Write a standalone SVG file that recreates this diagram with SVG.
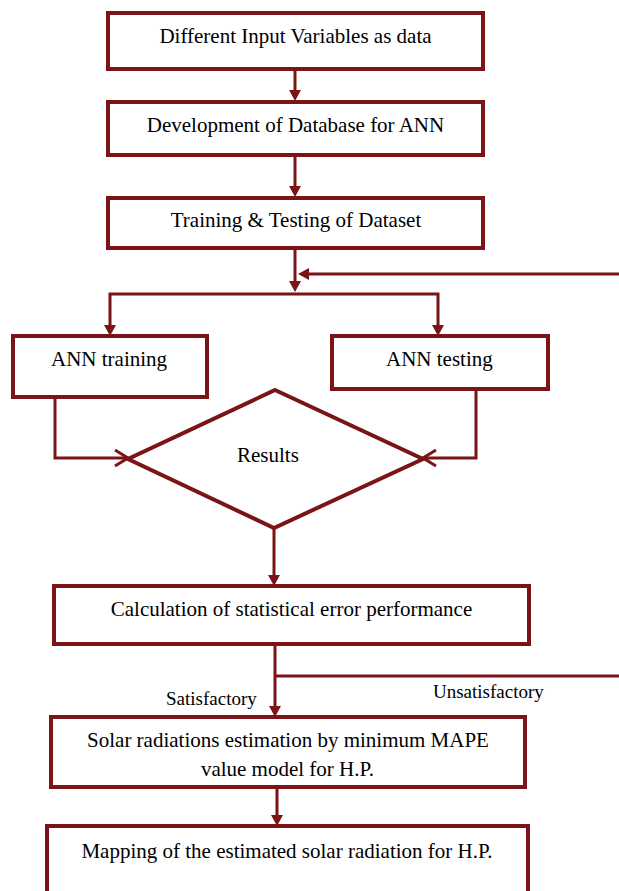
<svg xmlns="http://www.w3.org/2000/svg" width="619" height="891" viewBox="0 0 619 891">
<rect width="619" height="891" fill="#fff"/>
<g id="connectors" fill="none" stroke="#7a1416" stroke-width="3">
<line x1="295" y1="69" x2="295" y2="91"/>
<line x1="295" y1="155" x2="295" y2="187"/>
<line x1="295" y1="248" x2="295" y2="282"/>
<line x1="619" y1="274" x2="308" y2="274"/>
<polyline points="110,326 110,294 438,294 438,326"/>
<polyline points="55,397 55,458 127,458"/>
<polyline points="476,389 476,458 424,458"/>
<polyline points="115,450 128,458 115,466"/>
<polyline points="436,450 423,458 436,466"/>
<line x1="274" y1="528" x2="274" y2="576"/>
<line x1="275" y1="644" x2="275" y2="707"/>
<line x1="275" y1="676" x2="619" y2="676"/>
<line x1="277" y1="787" x2="277" y2="816"/>
<g fill="#7a1416" stroke="none">
<polygon points="289,90 301,90 295,101"/>
<polygon points="289,186 301,186 295,197"/>
<polygon points="289,281 301,281 295,292"/>
<polygon points="309,268 309,280 298,274"/>
<polygon points="104,325 116,325 110,336"/>
<polygon points="432,325 444,325 438,336"/>
<polygon points="268,575 280,575 274,586"/>
<polygon points="269,706 281,706 275,717"/>
<polygon points="271,815 283,815 277,826"/>
</g>
</g>
<text x="166" y="705" font-family="Liberation Serif" font-size="19">Satisfactory</text>
<text x="433" y="698" font-family="Liberation Serif" font-size="19">Unsatisfactory</text>
<g id="n1"><rect x="108" y="13" width="375" height="56" fill="#fff" stroke="#7a1416" stroke-width="4"/><text x="295.5" y="43" font-family="Liberation Serif" font-size="21" text-anchor="middle">Different Input Variables as data</text></g>
<g id="n2"><rect x="108" y="102" width="375" height="53" fill="#fff" stroke="#7a1416" stroke-width="4"/><text x="295.5" y="132" font-family="Times New Roman" font-size="21" text-anchor="middle">Development of Database for ANN</text></g>
<g id="n3"><rect x="108" y="198" width="375" height="50" fill="#fff" stroke="#7a1416" stroke-width="4"/><text x="296" y="227" font-family="serif" font-size="21" text-anchor="middle">Training &amp; Testing of Dataset</text></g>
<g id="n4"><rect x="13" y="336" width="194" height="61" fill="#fff" stroke="#7a1416" stroke-width="4"/><text x="51" y="366" style="font-family:'Liberation Serif';font-size:21px">ANN training</text></g>
<g id="n5"><rect x="332" y="336" width="216" height="53" fill="#fff" stroke="#7a1416" stroke-width="4"/><text x="386" y="366" font-family="Liberation Serif" font-size="21">ANN testing</text></g>
<g id="n6"><polygon points="275,390 423,459 274,528 128,459" fill="#fff" stroke="#7a1416" stroke-width="4"/><text x="237" y="462" font-family="Liberation Serif" font-size="21">Results</text></g>
<g id="n7"><rect x="54" y="586" width="475" height="58" fill="#fff" stroke="#7a1416" stroke-width="4"/><text x="291.5" y="616" font-family="Liberation Serif" font-size="21" text-anchor="middle">Calculation of statistical error performance</text></g>
<g id="n8"><rect x="51" y="717" width="474" height="70" fill="#fff" stroke="#7a1416" stroke-width="4"/><text x="288" y="747" font-family="Liberation Serif" font-size="21" text-anchor="middle">Solar radiations estimation by minimum MAPE</text><text x="287.5" y="776" font-family="Liberation Serif" font-size="21" text-anchor="middle">value model for H.P.</text></g>
<g id="n9"><rect x="47" y="826" width="481" height="80" fill="#fff" stroke="#7a1416" stroke-width="4"/><text x="287" y="858" font-family="Liberation Serif" font-size="21" text-anchor="middle">Mapping of the estimated solar radiation for H.P.</text></g>
</svg>
